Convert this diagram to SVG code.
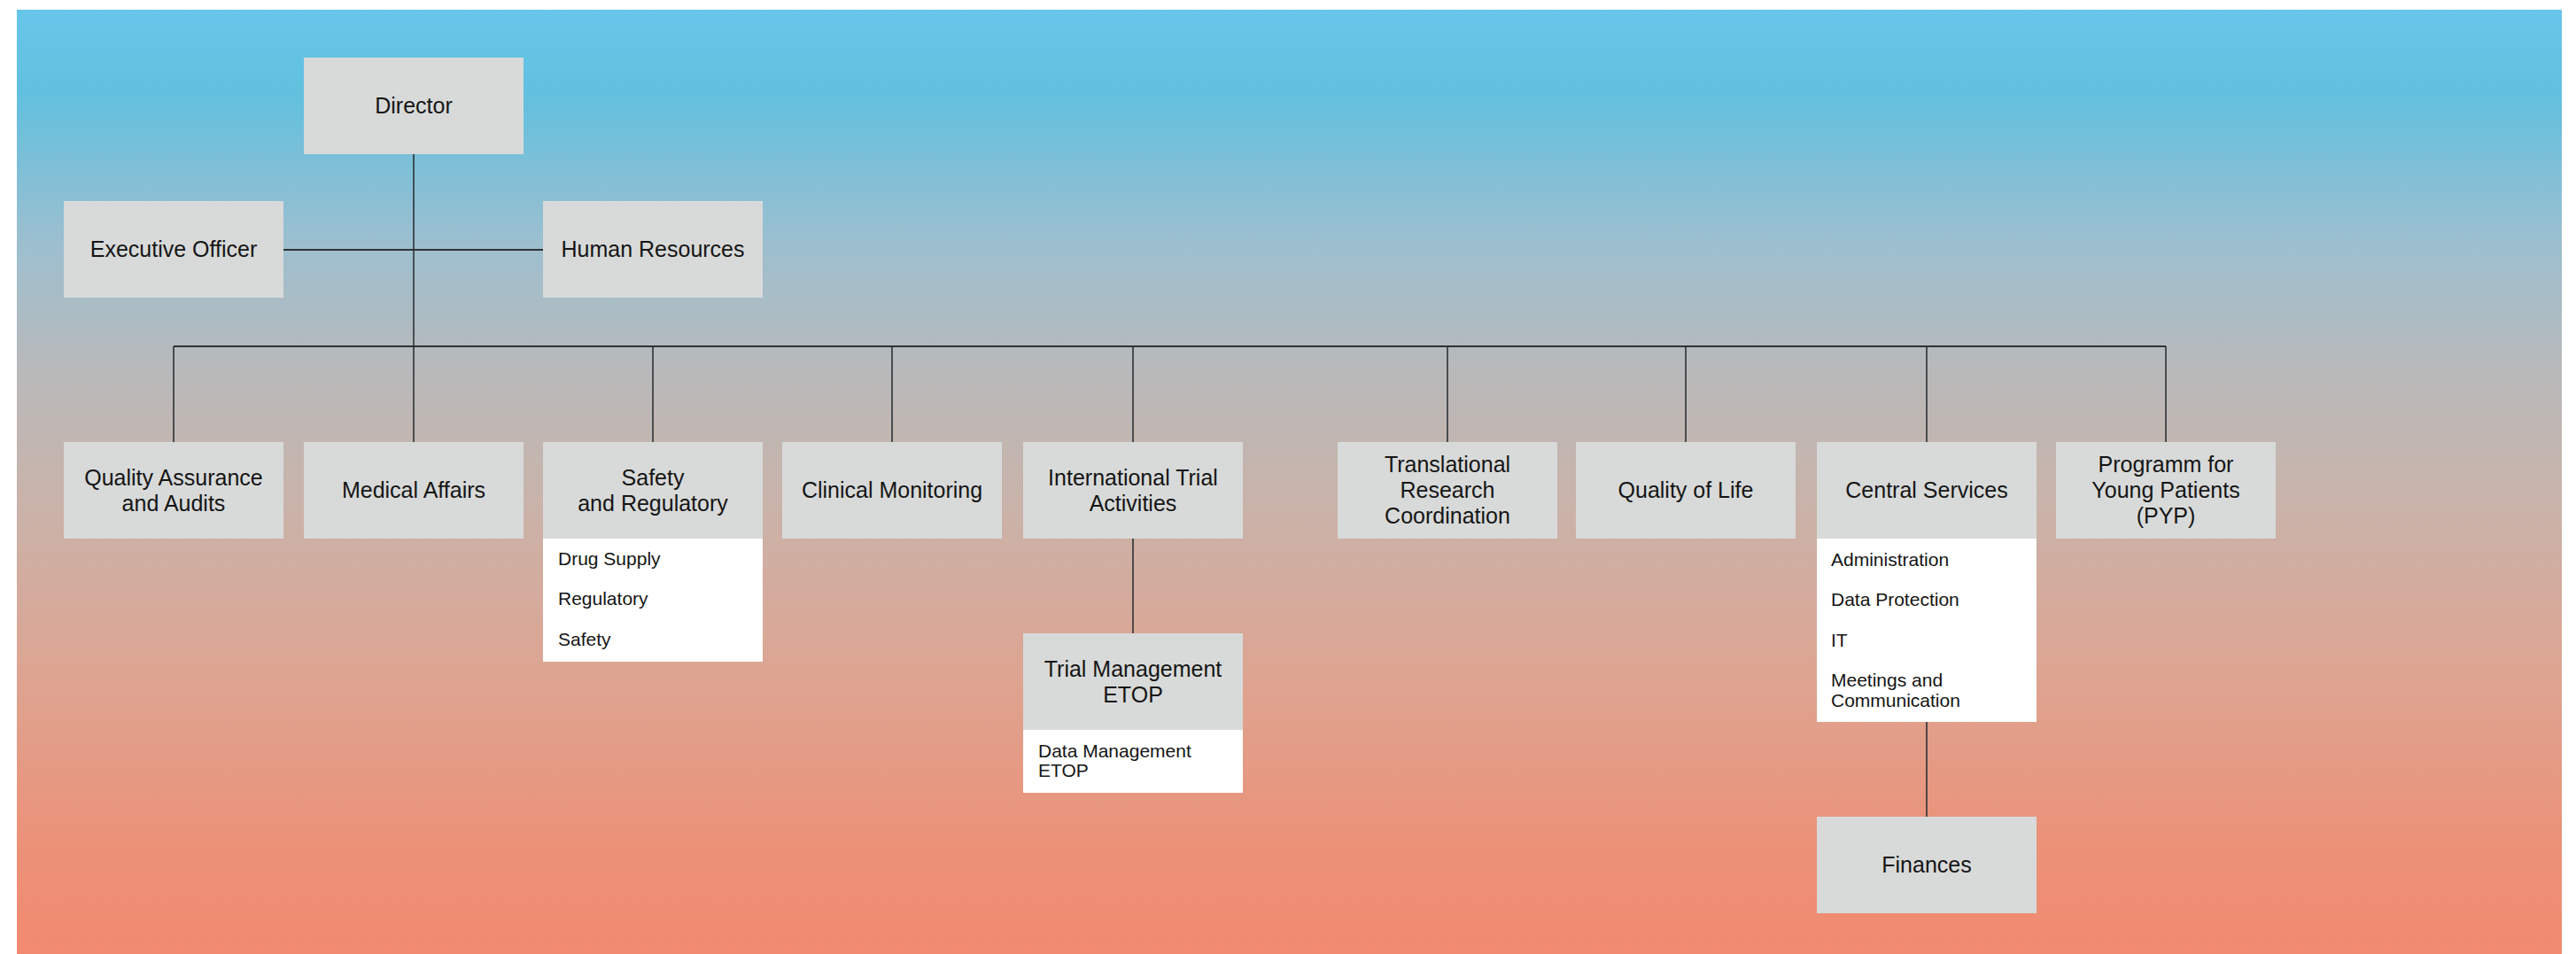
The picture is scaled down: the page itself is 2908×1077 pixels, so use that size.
<svg xmlns="http://www.w3.org/2000/svg" width="2908" height="1077" viewBox="0 0 2908 1077">
<defs>
<linearGradient id="bg" gradientUnits="userSpaceOnUse" x1="0" y1="11" x2="0" y2="1077">
<stop offset="0" stop-color="#67c6ea"/>
<stop offset="0.09" stop-color="#62c0de"/>
<stop offset="0.25" stop-color="#9dbfcf"/>
<stop offset="0.38" stop-color="#b8b9ba"/>
<stop offset="0.52" stop-color="#c9b3aa"/>
<stop offset="0.7" stop-color="#dda592"/>
<stop offset="0.88" stop-color="#eb9279"/>
<stop offset="1" stop-color="#f18a70"/>
</linearGradient>
<style>
.box{fill:#d8dad9}
.sub{fill:#ffffff}
.t{font-family:"Liberation Sans",Arial,sans-serif;font-size:25px;fill:#151515;text-anchor:middle}
.s{font-family:"Liberation Sans",Arial,sans-serif;font-size:21px;fill:#151515}
.h{stroke:#2e3236;stroke-width:2;fill:none}
.v{stroke:#2e3236;stroke-width:1.6;fill:none}
</style>
</defs>
<rect x="19" y="11" width="2873" height="1066" fill="url(#bg)"/>
<g id="connectors">
<line class="v" x1="467" y1="174" x2="467" y2="391"/>
<line class="h" x1="320" y1="282" x2="613" y2="282"/>
<line class="h" x1="196" y1="391" x2="2445" y2="391"/>
<line class="v" x1="196" y1="391" x2="196" y2="499"/>
<line class="v" x1="467" y1="391" x2="467" y2="499"/>
<line class="v" x1="737" y1="391" x2="737" y2="499"/>
<line class="v" x1="1007" y1="391" x2="1007" y2="499"/>
<line class="v" x1="1279" y1="391" x2="1279" y2="499"/>
<line class="v" x1="1634" y1="391" x2="1634" y2="499"/>
<line class="v" x1="1903" y1="391" x2="1903" y2="499"/>
<line class="v" x1="2175" y1="391" x2="2175" y2="499"/>
<line class="v" x1="2445" y1="391" x2="2445" y2="499"/>
<line class="v" x1="1279" y1="608" x2="1279" y2="715"/>
<line class="v" x1="2175" y1="815" x2="2175" y2="922"/>
</g>
<g id="director">
<rect class="box" x="343" y="65" width="248" height="109"/>
<text class="t" x="467" y="128">Director</text>
</g>
<g id="executive-officer">
<rect class="box" x="72" y="227" width="248" height="109"/>
<text class="t" x="196" y="290">Executive Officer</text>
</g>
<g id="human-resources">
<rect class="box" x="613" y="227" width="248" height="109"/>
<text class="t" x="737" y="290">Human Resources</text>
</g>
<g id="quality-assurance">
<rect class="box" x="72" y="499" width="248" height="109"/>
<text class="t" x="196" y="548">Quality Assurance</text>
<text class="t" x="196" y="577">and Audits</text>
</g>
<g id="medical-affairs">
<rect class="box" x="343" y="499" width="248" height="109"/>
<text class="t" x="467" y="562">Medical Affairs</text>
</g>
<g id="safety-regulatory">
<rect class="box" x="613" y="499" width="248" height="109"/>
<text class="t" x="737" y="548">Safety</text>
<text class="t" x="737" y="577">and Regulatory</text>
<rect class="sub" x="613" y="608" width="248" height="139"/>
<text class="s" x="630" y="638">Drug Supply</text>
<text class="s" x="630" y="683">Regulatory</text>
<text class="s" x="630" y="729">Safety</text>
</g>
<g id="clinical-monitoring">
<rect class="box" x="883" y="499" width="248" height="109"/>
<text class="t" x="1007" y="562">Clinical Monitoring</text>
</g>
<g id="international-trial">
<rect class="box" x="1155" y="499" width="248" height="109"/>
<text class="t" x="1279" y="548">International Trial</text>
<text class="t" x="1279" y="577">Activities</text>
</g>
<g id="trial-management">
<rect class="box" x="1155" y="715" width="248" height="109"/>
<text class="t" x="1279" y="764">Trial Management</text>
<text class="t" x="1279" y="793">ETOP</text>
<rect class="sub" x="1155" y="824" width="248" height="71"/>
<text class="s" x="1172" y="855">Data Management</text>
<text class="s" x="1172" y="877">ETOP</text>
</g>
<g id="translational-research">
<rect class="box" x="1510" y="499" width="248" height="109"/>
<text class="t" x="1634" y="533">Translational</text>
<text class="t" x="1634" y="562">Research</text>
<text class="t" x="1634" y="591">Coordination</text>
</g>
<g id="quality-of-life">
<rect class="box" x="1779" y="499" width="248" height="109"/>
<text class="t" x="1903" y="562">Quality of Life</text>
</g>
<g id="central-services">
<rect class="box" x="2051" y="499" width="248" height="109"/>
<text class="t" x="2175" y="562">Central Services</text>
<rect class="sub" x="2051" y="608" width="248" height="207"/>
<text class="s" x="2067" y="639">Administration</text>
<text class="s" x="2067" y="684">Data Protection</text>
<text class="s" x="2067" y="730">IT</text>
<text class="s" x="2067" y="775">Meetings and</text>
<text class="s" x="2067" y="798">Communication</text>
</g>
<g id="finances">
<rect class="box" x="2051" y="922" width="248" height="109"/>
<text class="t" x="2175" y="985">Finances</text>
</g>
<g id="pyp">
<rect class="box" x="2321" y="499" width="248" height="109"/>
<text class="t" x="2445" y="533">Programm for</text>
<text class="t" x="2445" y="562">Young Patients</text>
<text class="t" x="2445" y="591">(PYP)</text>
</g>
</svg>
